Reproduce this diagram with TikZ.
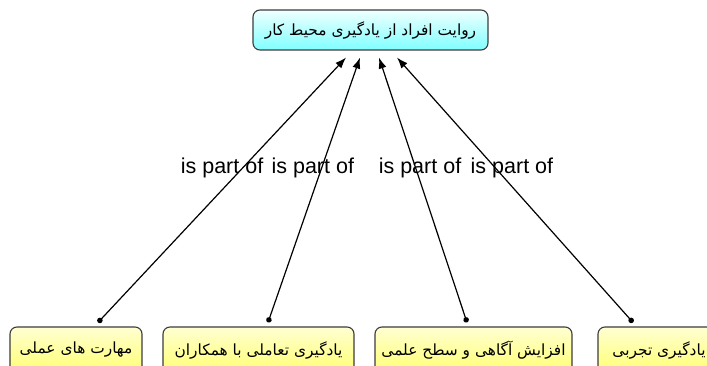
\documentclass[tikz,border=0pt]{standalone}
\usepackage{fontspec}
\setmainfont{Liberation Sans}
\newfontfamily\farsi[Script=Arabic]{DejaVu Sans}
\TeXXeTstate=1
\usetikzlibrary{arrows.meta}
\definecolor{boxline}{HTML}{3C3C3C}
\newcommand{\fa}[1]{{\farsi\beginR #1\endR}}

\begin{document}
\begin{tikzpicture}[x=1pt,y=-1pt]
	\tikzstyle{concept} = [draw=boxline, line width=1.1pt, rounded corners=7pt, inner sep=0pt, font=\fontsize{15.4}{18}\selectfont]
	\tikzstyle{goal} = [concept, top color=cyan!6, bottom color=cyan!50, minimum width=235pt, minimum height=40pt]
	\tikzstyle{part} = [concept, top color=yellow!18, bottom color=yellow!55, minimum height=46pt]
	\tikzstyle{link} = [draw=black, line width=1.2pt, {Circle[length=5.5pt]}-{Latex[length=11pt,width=8pt]}]
	\tikzstyle{rel} = [font=\fontsize{21.5}{24}\selectfont, inner sep=0pt]
	\clip (0,0) rectangle (707,366);
		\node[goal] (r) at (370.5,30) {\fa{روایت افراد از یادگیری محیط کار}};
		\node[part, minimum width=132pt] (a) at (76,350) {\fa{مهارت های عملی}};
		\node[part, minimum width=191pt] (b) at (258.5,350) {\fa{یادگیری تعاملی با همکاران}};
		\node[part, minimum width=197pt] (c) at (473.5,350) {\fa{افزایش آگاهی و سطح علمی}};
		\node[part, minimum width=122pt] (d) at (659,350) {\fa{یادگیری تجربی}};

		\draw[link] ([xshift=22pt,yshift=4pt]a.north) -- node[rel, pos=0.585, xshift=-21pt] {is part of} ([xshift=-24.5pt,yshift=-7pt]r.south);
		\draw[link] ([xshift=9.5pt,yshift=4pt]b.north) -- node[rel, pos=0.585, xshift=-9pt] {is part of} ([xshift=-10.5pt,yshift=-7pt]r.south);
		\draw[link] ([xshift=-6.5pt,yshift=4pt]c.north) -- node[rel, pos=0.585, xshift=4.5pt] {is part of} ([xshift=8.5pt,yshift=-7pt]r.south);
		\draw[link] ([xshift=-26pt,yshift=4pt]d.north) -- node[rel, pos=0.585, xshift=17pt] {is part of} ([xshift=26.5pt,yshift=-7pt]r.south);
\end{tikzpicture}
\end{document}
